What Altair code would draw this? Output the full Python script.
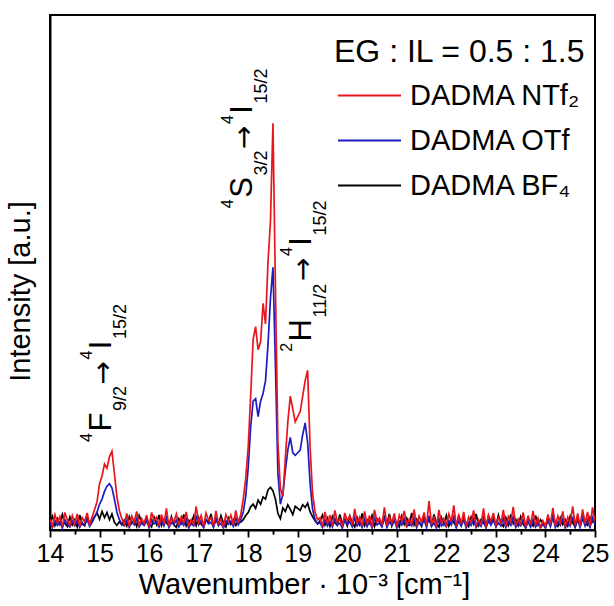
import altair as alt
import numpy as np
import pandas as pd

# Wavenumber grid (x 10^3 cm^-1), 0.05 step
wn = np.round(np.arange(14.0, 25.0001, 0.05), 2)

# Intensity readings (arbitrary units, 0..100 = plot height)
red = (
    [2.1, 0.8, 3.0, 1.4, 2.6, 0.6, 3.4, 1.9, 0.9, 2.8, 1.2, 3.1, 0.7, 2.4, 1.6, 3.3, 1.0]
    + [2.5, 4.0, 5.5, 9.0, 10.5, 12.8, 12.0, 14.2, 15.3, 11.0, 6.5, 3.8, 2.2]
    + [1.1, 3.2, 0.6, 2.7, 1.5, 3.6, 0.9, 2.2, 1.3, 2.9, 0.5, 3.4, 1.8, 2.5, 0.8, 3.0,
       1.2, 4.2, 0.7, 2.3, 1.6, 3.1, 0.9, 2.6, 1.4, 3.5, 0.6, 2.0, 1.1, 4.6, 1.5, 2.8,
       0.7, 3.3, 1.9, 2.4, 0.8, 3.7, 1.3, 2.1, 0.6, 3.0, 1.7, 2.9, 1.0, 3.8, 1.4]
    + [3.0, 6.0, 10.0, 16.0, 26.0, 37.0, 39.5, 35.0, 36.5, 44.0, 40.0, 52.0, 60.0, 79.0,
       47.0, 17.0, 8.0, 6.5, 14.0, 21.0, 26.0, 23.5, 21.0, 22.0, 23.0, 26.0, 29.0, 31.0,
       16.0, 7.0, 3.5, 2.0]
    + [2.4, 0.7, 3.5, 1.2, 2.9, 0.8, 3.8, 1.5, 2.2, 0.6,
       3.3, 1.8, 2.7, 0.9, 4.1, 1.3, 2.5, 0.7, 3.6, 1.1,
       2.8, 0.5, 3.9, 1.6, 2.3, 1.0, 4.4, 0.8, 2.6, 1.4,
       3.2, 0.6, 2.9, 1.7, 3.7, 0.9, 2.1, 1.2, 4.0, 0.7,
       2.7, 1.5, 3.4, 0.8, 5.6, 1.1, 2.4, 0.6, 3.9, 1.3,
       2.2, 0.9, 3.1, 1.6, 4.8, 0.7, 2.8, 1.2, 3.5, 0.6,
       2.5, 1.4, 3.8, 0.8, 2.0, 1.1, 4.2, 0.5, 2.9, 1.7,
       3.3, 0.9, 2.4, 1.3, 3.9, 0.7, 2.6, 1.5, 4.5, 0.8,
       2.1, 1.2, 3.4, 0.6, 2.8, 1.0, 3.7, 0.9, 2.3, 0.5,
       1.8, 0.7, 3.0, 1.1, 4.3, 0.8, 2.7, 1.4, 3.6, 0.6,
       2.5, 1.3, 4.6, 0.9, 3.2, 0.7, 4.0, 1.2, 3.5, 0.8,
       4.4, 1.6]
)
blue = (
    [1.2, 0.5, 1.8, 0.9, 1.5, 0.4, 2.0, 1.1, 0.6, 1.7, 0.8, 1.9, 0.5, 1.4, 1.0, 2.1, 0.7]
    + [1.5, 2.5, 3.5, 5.0, 6.0, 7.5, 8.5, 9.0, 8.2, 6.0, 3.5, 2.0, 1.2]
    + [0.8, 1.9, 0.5, 1.6, 1.0, 2.2, 0.6, 1.4, 0.9, 1.8, 0.4, 2.0, 1.2, 1.5, 0.6, 1.9,
       0.8, 2.4, 0.5, 1.4, 1.1, 1.9, 0.6, 1.6, 0.9, 2.1, 0.4, 1.3, 0.8, 2.6, 1.0, 1.7,
       0.5, 2.0, 1.2, 1.5, 0.6, 2.2, 0.9, 1.3, 0.4, 1.8, 1.1, 1.7, 0.7, 2.3, 1.0]
    + [2.0, 3.5, 6.5, 12.0, 20.0, 25.0, 25.5, 22.0, 25.0, 26.5, 29.0, 36.0, 45.0, 51.0,
       32.0, 11.0, 5.0, 7.0, 11.5, 15.5, 18.0, 15.0, 14.5, 15.0, 15.5, 18.5, 20.8, 17.0,
       9.0, 4.0, 2.0, 1.2]
    + [1.4, 0.5, 2.0, 0.8, 1.7, 0.6, 2.2, 1.0, 1.3, 0.4,
       1.9, 1.1, 1.6, 0.6, 2.4, 0.8, 1.5, 0.5, 2.1, 0.7,
       1.7, 0.4, 2.3, 1.0, 1.4, 0.6, 2.5, 0.5, 1.6, 0.9,
       1.9, 0.4, 1.7, 1.0, 2.2, 0.6, 1.3, 0.8, 2.3, 0.5,
       1.6, 0.9, 2.0, 0.5, 2.8, 0.7, 1.4, 0.4, 2.2, 0.8,
       1.3, 0.6, 1.8, 1.0, 2.6, 0.5, 1.7, 0.8, 2.0, 0.4,
       1.5, 0.9, 2.2, 0.5, 1.2, 0.7, 2.4, 0.4, 1.7, 1.0,
       1.9, 0.6, 1.4, 0.8, 2.3, 0.5, 1.5, 0.9, 2.5, 0.5,
       1.2, 0.8, 2.0, 0.4, 1.6, 0.6, 2.1, 0.6, 1.4, 0.4,
       1.1, 0.5, 1.8, 0.7, 2.4, 0.5, 1.6, 0.9, 2.1, 0.4,
       1.5, 0.8, 2.6, 0.6, 1.9, 0.5, 2.3, 0.8, 2.0, 0.5,
       2.4, 1.0]
)
black = (
    [1.5, 2.7, 0.9, 2.2, 1.1, 3.0, 1.3, 0.7, 2.5, 1.0, 2.0, 0.6, 2.9, 1.2, 0.8, 2.4, 1.4]
    + [1.8, 2.6, 3.3, 2.1, 3.6, 2.4, 3.4, 2.0, 3.1, 1.5, 0.9, 1.6, 1.0]
    + [1.9, 0.8, 2.6, 1.3, 2.0, 0.7, 2.8, 1.5, 1.0, 2.3, 1.2, 0.6, 2.5, 1.1, 2.9, 0.9,
       2.1, 1.4, 0.8, 2.6, 1.0, 0.5, 2.2, 1.3, 3.0, 0.8, 1.9, 1.2, 2.7, 0.9, 2.4, 1.1,
       0.6, 2.0, 1.5, 3.1, 0.7, 2.2, 1.0, 2.8, 1.4, 0.6, 2.3, 1.1, 2.0, 0.9, 1.7]
    + [1.5, 2.0, 2.8, 3.4, 4.5, 5.0, 4.2, 5.8, 5.0, 6.4, 6.0, 7.8, 8.3, 7.6, 6.0, 3.2,
       2.2, 4.3, 3.6, 4.9, 4.0, 3.0, 4.6, 4.2, 3.8, 4.9, 4.4, 5.2, 3.5, 2.6, 1.8, 1.2]
    + [1.8, 2.9, 1.0, 2.3, 0.7, 2.6, 1.4, 0.9, 3.0, 1.2,
       2.1, 0.8, 2.7, 1.5, 0.6, 2.4, 1.1, 3.2, 0.9, 2.0,
       1.3, 2.8, 0.7, 2.2, 1.6, 0.9, 2.5, 1.2, 3.1, 0.8,
       2.0, 1.4, 0.6, 2.7, 1.1, 2.3, 0.8, 3.3, 1.0, 2.1,
       1.5, 0.7, 2.6, 1.2, 2.0, 0.9, 3.0, 1.3, 0.6, 2.4,
       1.1, 2.8, 0.8, 2.2, 1.5, 0.6, 2.9, 1.0, 2.3, 1.3,
       0.7, 2.5, 1.2, 3.1, 0.9, 2.0, 1.4, 0.6, 2.7, 1.1,
       2.2, 0.8, 2.9, 1.3, 0.7, 2.4, 1.0, 3.0, 1.2, 2.1,
       0.9, 2.6, 1.1, 0.5, 2.3, 1.5, 0.8, 2.8, 1.0, 2.0,
       1.3, 0.4, 2.5, 0.9, 3.1, 1.2, 0.7, 2.4, 1.1, 2.0,
       0.8, 2.7, 1.4, 0.6, 2.2, 1.0, 3.0, 1.3, 0.9, 2.5,
       1.6, 2.3]
)
assert len(red) == len(blue) == len(black) == len(wn)

series_names = ["DADMA NTf\u2082", "DADMA OTf", "DADMA BF\u2084"]
series_colors = ["#e8161c", "#1c1cc4", "#000000"]
legend_title = "EG : IL = 0.5 : 1.5"

major_ticks = list(range(14, 26))
minor_ticks = [v + 0.5 for v in range(14, 25)]

# Transition labels: pieces (text, kind), anchor (wavenumber, intensity)
labels = [
    [("4", "sup"), ("F", "main"), ("9/2", "sub"), ("\u2192", "arrow"),
     ("4", "sup"), ("I", "main"), ("15/2", "sub")],
    [("4", "sup"), ("S", "main"), ("3/2", "sub"), ("\u2192", "arrow"),
     ("4", "sup"), ("I", "main"), ("15/2", "sub")],
    [("2", "sup"), ("H", "main"), ("11/2", "sub"), ("\u2192", "arrow"),
     ("4", "sup"), ("I", "main"), ("15/2", "sub")],
]
anchors = [(15.01, 17.1), (17.86, 62.5), (19.05, 34.6)]

FONT = "Liberation Sans"
W, H = 545, 515
px_x = W / 11.0
px_y = H / 100.0
CW = {c: 0.556 for c in "0123456789"}
CW.update({"/": 0.278, "F": 0.611, "S": 0.667, "H": 0.722, "I": 0.278, "\u2192": 0.838})
SIZES = {"main": 31, "arrow": 28, "sub": 18, "sup": 16}
PERP = {"main": 11, "arrow": 12, "sub": 26, "sup": -8}
GAP = 1.5

rows = []
for (ax, ay), pieces in zip(anchors, labels):
    s = 0.0
    for text, kind in pieces:
        fs = SIZES[kind]
        rows.append({"x": ax + PERP[kind] / px_x, "y": ay + s / px_y, "t": text,
                     "fs": fs, "arrow": kind == "arrow"})
        s += sum(CW[c] for c in text) * fs + GAP
ann_df = pd.DataFrame(rows)

xscale = alt.Scale(domain=[14, 25], nice=False, zero=False)
yscale = alt.Scale(domain=[0, 100], nice=False, zero=False)
cscale = alt.Scale(domain=series_names, range=series_colors)

yaxis = alt.Axis(title="Intensity [a.u.]", labels=False, ticks=False, grid=False,
                 domainColor="#000", domainWidth=2, titleFont=FONT, titleFontSize=29,
                 titleFontWeight="normal", titleColor="#000", titleX=-15, titleY=276,
                 titleBaseline="bottom", titleAlign="center", titleAngle=270)
main_xaxis = alt.Axis(values=major_ticks, orient="bottom", grid=False, tickSize=7,
                      tickWidth=1.8, tickColor="#000", domainColor="#000", domainWidth=2,
                      labelFont=FONT, labelFontSize=25, labelColor="#000", labelPadding=4,
                      labelFlush=False, labelOverlap=False, labelBound=False,
                      title="Wavenumber \u00b7 10\u207b\u00b3 [cm\u207b\u00b9]",
                      titleFont=FONT, titleFontSize=29, titleFontWeight="normal",
                      titleColor="#000", titlePadding=4, titleX=254, titleAlign="center")
minor_xaxis = alt.Axis(values=minor_ticks, orient="bottom", grid=False, tickSize=4,
                       tickWidth=1.5, tickColor="#000", domain=False, labels=False,
                       title=None)

legend = alt.Legend(title=legend_title, orient="none", legendX=284, legendY=22,
                    padding=0, symbolType="M-3,0H3", symbolSize=441, symbolStrokeWidth=2,
                    symbolOffset=21,
                    labelFont=FONT, labelFontSize=29, labelColor="#000", labelOffset=26,
                    titleFont=FONT, titleFontSize=32, titleFontWeight="normal",
                    titleColor="#000", titleAnchor="start", titlePadding=12, rowPadding=15,
                    labelLimit=400, titleLimit=400)


def line_layer(vals, name, axis):
    d = pd.DataFrame({"x": wn, "y": vals, "series": name})
    return alt.Chart(d).mark_line(strokeWidth=1.7, clip=True).encode(
        x=alt.X("x:Q", scale=xscale, axis=axis),
        y=alt.Y("y:Q", scale=yscale, axis=yaxis),
        color=alt.Color("series:N", scale=cscale, legend=legend),
    )


layers = [
    line_layer(black, series_names[2], main_xaxis),
    line_layer(blue, series_names[1], None),
    line_layer(red, series_names[0], None),
]

ann_base = alt.Chart(ann_df).encode(
    x=alt.X("x:Q", scale=xscale, axis=minor_xaxis),
    y=alt.Y("y:Q", scale=yscale, axis=yaxis),
    text="t:N",
    size=alt.Size("fs:Q", scale=None),
)
ann_text = ann_base.transform_filter("!datum.arrow").mark_text(
    angle=270, align="left", baseline="alphabetic", font=FONT, color="#000")
ann_arrow = ann_base.transform_filter("datum.arrow").mark_text(
    angle=270, align="left", baseline="alphabetic", font="DejaVu Sans", color="#000")

chart = alt.layer(*layers, ann_text, ann_arrow).resolve_axis(x="independent").properties(
    width=W, height=H,
    autosize=alt.AutoSizeParams(type="none"),
    padding={"left": 50, "top": 15, "right": 19, "bottom": 76},
    background="white",
).configure_view(stroke="#000", strokeWidth=2)

chart.save("out.html", embed_options={"renderer": "svg", "actions": False})
